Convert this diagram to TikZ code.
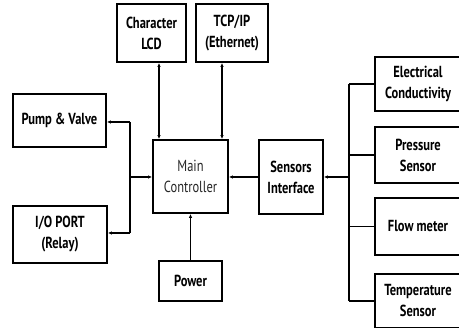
\documentclass[tikz,border=0pt]{standalone}
\usepackage{fontspec}
\setmainfont[FakeStretch=0.78]{PT Sans}
\usetikzlibrary{arrows.meta}
\begin{document}
\begin{tikzpicture}[x=1pt,y=-1pt,
  blk/.style={draw=black, line width=1.8pt, fill=white, align=center, inner sep=0pt,
    font=\fontsize{16}{21}\selectfont\bfseries},
  conn/.style={line width=1.3pt},
  tip/.style={-{Latex[length=4pt,width=3.5pt]}},
  both/.style={{Latex[length=4pt,width=3.5pt]}-{Latex[length=4pt,width=3.5pt]}}]
\useasboundingbox (0,0) rectangle (459,328);
\clip (0,0) rectangle (459,328);
% blocks
\node[blk, minimum width=69pt, minimum height=58pt] (lcd) at (151.5,33) {Character\\LCD};
\node[blk, minimum width=72pt, minimum height=58pt] (tcp) at (232,33) {TCP/IP\\(Ethernet)};
\node[blk, minimum width=93pt, minimum height=53pt] (pump) at (59.5,120.5) {Pump \& Valve};
\node[blk, minimum width=75pt, minimum height=73pt, font=\fontsize{16}{21}\selectfont, text=black!85] (main) at (190.5,176.5) {Main\\Controller};
\node[blk, minimum width=94pt, minimum height=57pt] (io) at (60,234.5) {I/O PORT\\(Relay)};
\node[blk, minimum width=63pt, minimum height=40pt] (pow) at (190.5,281) {Power};
\node[blk, minimum width=64pt, minimum height=74pt] (sens) at (291,177) {Sensors\\Interface};
\node[blk, minimum width=86pt, minimum height=54pt] (ec) at (418,84) {Electrical\\Conductivity};
\node[blk, minimum width=86pt, minimum height=56pt] (pres) at (418,155) {Pressure\\Sensor};
\node[blk, minimum width=86pt, minimum height=57pt] (flow) at (418,226.5) {Flow meter};
\node[blk, minimum width=86pt, minimum height=54pt] (temp) at (418,301) {Temperature\\Sensor};
% coordinates
\coordinate (lb1) at (130,122);
\coordinate (lb2) at (130,233);
\coordinate (lbm) at (130,177);
\coordinate (rbt) at (349,84);
\coordinate (rbb) at (349,301);
\coordinate (rbm) at (349,177);
% connectors
\draw[conn, both] (lcd.south -| 159,0) -- (main.north -| 159,0);
\draw[conn, both] (tcp.south -| 222,0) -- (main.north -| 222,0);
\draw[conn] (lb1) -- (lb2);
\draw[conn, tip] (lb1) -- (lb1 -| pump.east);
\draw[conn, tip] (lb2) -- (lb2 -| io.east);
\draw[conn, tip] (lbm) -- (lbm -| main.west);
\draw[conn, tip] (pow.north) -- (main.south);
\draw[conn, tip] (sens.west) -- (sens.west -| main.east);
\draw[conn] (rbt) -- (rbb);
\draw[conn, tip] (rbm) -- (rbm -| sens.east);
\draw[conn] (rbt) -- (ec.west);
\draw[conn] (pres.west -| rbt) -- (pres.west);
\draw[conn] (flow.west -| rbt) -- (flow.west);
\draw[conn] (rbb) -- (temp.west);
\end{tikzpicture}
\end{document}
